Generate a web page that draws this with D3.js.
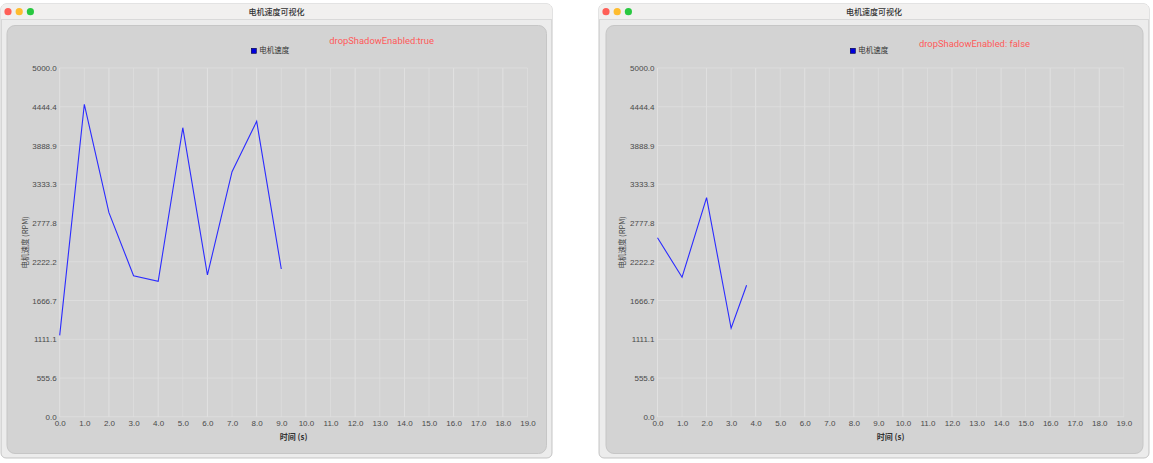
<!DOCTYPE html>
<html>
<head>
<meta charset="utf-8">
<script src="https://cdn.jsdelivr.net/npm/d3@7"></script>
<style>
html,body{margin:0;padding:0;background:#ffffff;}
svg{display:block;}
</style>
</head>
<body>
<svg id="c" width="1153" height="463"></svg>
<script>
// ---- data ----
const windowTitle = "电机速度可视化";
const seriesName = "电机速度";
const xAxisTitle = "时间 (s)";
const yAxisTitle = "电机速度 (RPM)";
const leftNote = "dropShadowEnabled:true";
const rightNote = "dropShadowEnabled: false";
const leftTime = [0, 1, 2, 3, 4, 5, 6, 7, 8, 9];
const leftSpeed = [1168, 4480, 2926, 2023, 1942, 4144, 2033, 3514, 4236, 2119];
const rightTime = [0, 1, 2, 3, 3.63];
const rightSpeed = [2567, 2000, 3141, 1269, 1885];
const xTickValues = [0,1,2,3,4,5,6,7,8,9,10,11,12,13,14,15,16,17,18,19];
const yTickValues = [0, 555.6, 1111.1, 1666.7, 2222.2, 2777.8, 3333.3, 3888.9, 4444.4, 5000];
const yMax = 5000, xMax = 19;

const CJK = "'Noto Sans CJK SC','Noto Sans',sans-serif";
const NUM = "'Liberation Sans','Noto Sans',sans-serif";
const svg = d3.select("#c");

function drawWindow(cfg) {
  const g = svg.append("g");
  const {wx, wy, ww, wh} = cfg;
  // window body
  g.append("rect").attr("x", wx).attr("y", wy).attr("width", ww).attr("height", wh)
    .attr("rx", 5).attr("fill", "#ececec").attr("stroke", "#b8b8b8").attr("stroke-width", 0.8);
  // title bar
  g.append("path")
    .attr("d", `M${wx+5},${wy} H${wx+ww-5} Q${wx+ww},${wy} ${wx+ww},${wy+5} V${wy+15.5} H${wx} V${wy+5} Q${wx},${wy} ${wx+5},${wy} Z`)
    .attr("fill", "#f1f0ef");
  g.append("line").attr("x1", wx).attr("x2", wx+ww).attr("y1", wy+15.5).attr("y2", wy+15.5)
    .attr("stroke", "#d9d9d9").attr("stroke-width", 1);
  const lights = ["#ff5f57", "#febc2e", "#28c840"];
  lights.forEach((c, i) => {
    g.append("circle").attr("cx", cfg.lx + i*11.2).attr("cy", wy+7.7).attr("r", 3.6).attr("fill", c);
  });
  g.append("text").attr("x", wx + ww/2).attr("y", wy+7.7).attr("dy", "0.35em")
    .attr("text-anchor", "middle").style("font-family", CJK).style("font-size", "8px")
    .style("font-weight", 500).attr("fill", "#333").text(windowTitle);
  // inner panel
  g.append("rect").attr("x", cfg.px).attr("y", cfg.py).attr("width", cfg.pw).attr("height", cfg.ph)
    .attr("rx", 8).attr("fill", "#d3d3d3").attr("stroke", "#c6c6c6").attr("stroke-width", 1);

  const x = d3.scaleLinear().domain([0, xMax]).range([cfg.x0, cfg.x1]);
  const y = d3.scaleLinear().domain([0, yMax]).range([416.8, 68]);

  // grid
  const grid = g.append("g");
  grid.selectAll("line.v").data(xTickValues).enter().append("line")
    .attr("x1", d => x(d)).attr("x2", d => x(d)).attr("y1", y(yMax)).attr("y2", y(0))
    .attr("stroke", (d, i) => i % 2 ? "#dddddd" : "#e4e4e4").attr("stroke-width", 0.8);
  grid.selectAll("line.h").data(yTickValues).enter().append("line")
    .attr("x1", x(0)).attr("x2", x(xMax)).attr("y1", d => y(d)).attr("y2", d => y(d))
    .attr("stroke", "#dfdfdf").attr("stroke-width", 0.8);

  // axes (labels only)
  const yAxis = d3.axisLeft(y).tickValues(yTickValues).tickFormat(d => d.toFixed(1)).tickSize(0).tickPadding(3);
  const ya = g.append("g").attr("transform", `translate(${x(0)},0)`).call(yAxis);
  ya.select(".domain").remove();
  ya.selectAll("text").style("font-size", "8px").style("font-family", NUM).attr("fill", "#4a4a4a");

  const xAxis = d3.axisBottom(x).tickValues(xTickValues).tickFormat(d => d.toFixed(1)).tickSize(0).tickPadding(3);
  const xa = g.append("g").attr("transform", `translate(0,${y(0)+1})`).call(xAxis);
  xa.select(".domain").remove();
  xa.selectAll("text").style("font-size", "8px").style("font-family", NUM).attr("fill", "#4a4a4a");

  // axis titles
  g.append("text").attr("x", (cfg.x0 + cfg.x1)/2).attr("y", 436.7).attr("dy", "0.35em")
    .attr("text-anchor", "middle").style("font-family", CJK).style("font-size", "8px")
    .style("font-weight", 700).attr("fill", "#333").text(xAxisTitle);
  g.append("text").attr("transform", `translate(${cfg.ytx},${(y(0)+y(yMax))/2}) rotate(-90)`)
    .attr("dy", "0.35em").attr("text-anchor", "middle").style("font-family", CJK)
    .style("font-size", "7.5px").attr("fill", "#444").text(yAxisTitle);

  // legend
  g.append("rect").attr("x", cfg.legX).attr("y", 48.3).attr("width", 5).attr("height", 5)
    .attr("fill", "#0000dd").attr("stroke", "#000044").attr("stroke-width", 0.6);
  g.append("text").attr("x", cfg.legX + 8).attr("y", 50.8).attr("dy", "0.35em")
    .style("font-family", CJK).style("font-size", "7.5px").attr("fill", "#333").text(seriesName);

  // note
  g.append("text").attr("x", cfg.noteX).attr("y", cfg.noteY).attr("dy", "0.35em")
    .style("font-family", "Roboto,'Noto Sans',sans-serif").style("font-size", "9.4px")
    .attr("fill", "#ff5a5a").text(cfg.note);

  // line
  const pts = cfg.time.map((t, i) => [t, cfg.speed[i]]);
  g.append("path").datum(pts)
    .attr("d", d3.line().x(d => x(d[0])).y(d => y(d[1])))
    .attr("fill", "none").attr("stroke", "#2b2bff").attr("stroke-width", 1.1);
}

drawWindow({wx: 1, wy: 4, ww: 551, wh: 454, lx: 8, px: 7, py: 25.5, pw: 539.5, ph: 428,
  x0: 59.7, x1: 527.5, ytx: 25, legX: 251.3, noteX: 329.3, noteY: 40.7,
  note: leftNote, time: leftTime, speed: leftSpeed});
drawWindow({wx: 599, wy: 4, ww: 550, wh: 454, lx: 606, px: 606, py: 25.5, pw: 537, ph: 428,
  x0: 657.5, x1: 1123.8, ytx: 622.7, legX: 850.3, noteX: 919, noteY: 43.7,
  note: rightNote, time: rightTime, speed: rightSpeed});
</script>
</body>
</html>
